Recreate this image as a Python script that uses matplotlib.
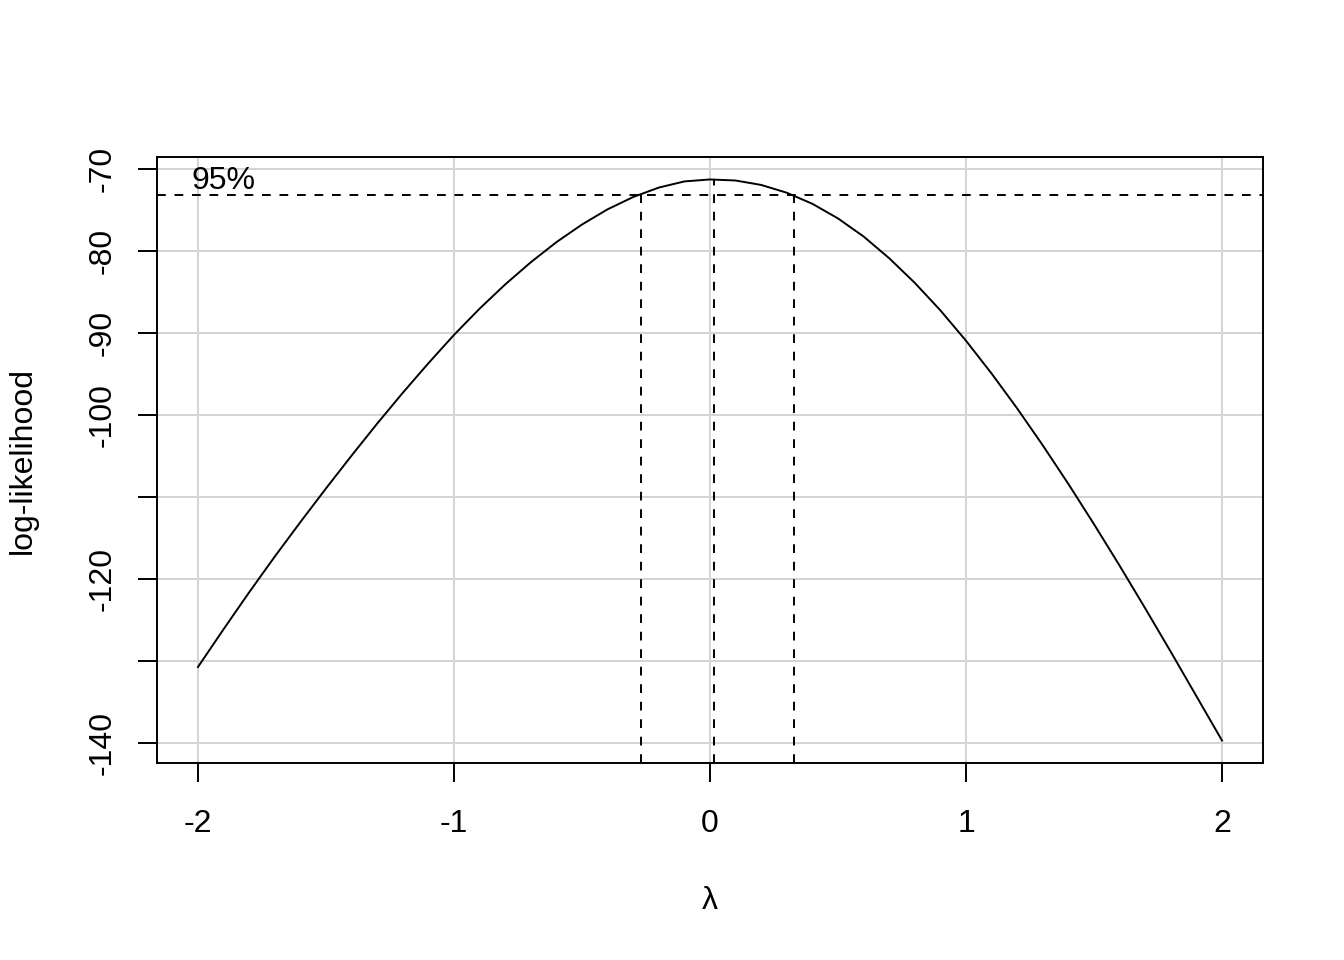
import numpy as np
import matplotlib
matplotlib.use("Agg")
import matplotlib.pyplot as plt

plt.rcParams["font.family"] = ["Liberation Sans", "DejaVu Sans"]
plt.rcParams["axes.unicode_minus"] = False

# profile log-likelihood
lam = [-2.0, -1.9, -1.8, -1.7, -1.6, -1.5, -1.4, -1.3, -1.2, -1.1,
       -1.0, -0.9, -0.8, -0.7, -0.6, -0.5, -0.4, -0.3, -0.2, -0.1,
       0.0, 0.1, 0.2, 0.3, 0.4, 0.5, 0.6, 0.7, 0.8, 0.9,
       1.0, 1.1, 1.2, 1.3, 1.4, 1.5, 1.6, 1.7, 1.8, 1.9, 2.0]
loglik = [-130.72, -126.12, -121.62, -117.27, -113.07, -108.97, -104.97, -101.07, -97.32, -93.72,
          -90.27, -87.07, -84.12, -81.42, -78.97, -76.82, -74.97, -73.47, -72.32, -71.57,
          -71.33, -71.46, -72.00, -72.95, -74.30, -76.08, -78.28, -80.93, -83.93, -87.28,
          -90.98, -94.98, -99.23, -103.73, -108.43, -113.33, -118.38, -123.58, -128.88, -134.28, -139.68]

lam_hat = 0.017
ll_max = -71.33
ci_low, ci_high = -0.270, 0.327
cutoff = -73.24

xticks = [-2, -1, 0, 1, 2]
yticks = [-70, -80, -90, -100, -110, -120, -130, -140]
ytick_labels = ["-70", "-80", "-90", "-100", "", "-120", "", "-140"]

lw = 1.4
fs = 23
dash = (0, (4.5, 4.5))

fig = plt.figure(figsize=(13.44, 9.6), dpi=100)
ax = fig.add_axes([157 / 1344, 1 - 763 / 960, (1263 - 157) / 1344, (763 - 157) / 960])

xr = max(lam) - min(lam)
yr = max(loglik) - min(loglik)
ax.set_xlim(min(lam) - 0.04 * xr, max(lam) + 0.04 * xr)
ax.set_ylim(min(loglik) - 0.04 * yr, max(loglik) + 0.04 * yr)
ybot = ax.get_ylim()[0]

ax.set_xticks(xticks)
ax.set_yticks(yticks)
ax.set_yticklabels(ytick_labels, rotation=90, va="center")
ax.grid(True, color="#D3D3D3", linewidth=lw)
ax.set_axisbelow(True)

ax.plot(lam, loglik, color="black", linewidth=lw)

ax.axhline(cutoff, color="black", linewidth=lw, linestyle=dash)
ax.vlines([ci_low, ci_high], ybot, cutoff, color="black", linewidth=lw, linestyle=dash)
ax.vlines([lam_hat], ybot, ll_max, color="black", linewidth=lw, linestyle=dash)
ax.text(-1.9, cutoff + 0.75, "95%", ha="center", va="baseline", fontsize=fs)

for s in ax.spines.values():
    s.set_linewidth(lw)
ax.tick_params(length=14, width=lw, labelsize=fs)
ax.tick_params(axis="x", pad=19)
ax.tick_params(axis="y", pad=14)

ax.set_xlabel("λ", fontsize=fs, labelpad=34)
ax.set_ylabel("log-likelihood", fontsize=fs, labelpad=36)

fig.savefig("out.png", dpi=100)
